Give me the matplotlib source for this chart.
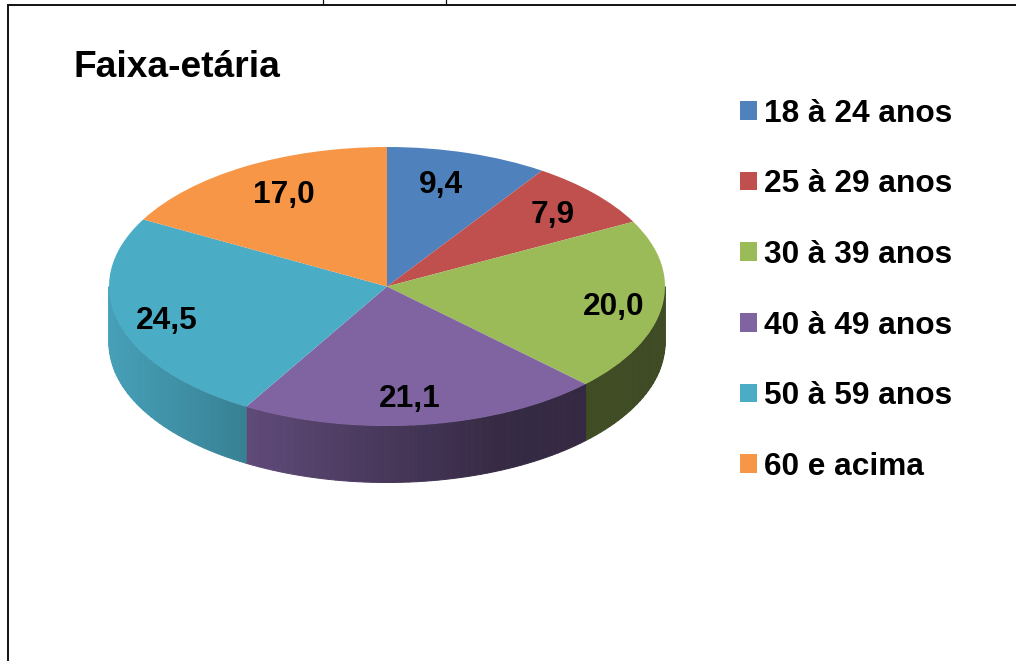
import numpy as np
import matplotlib
matplotlib.use("Agg")
import matplotlib.pyplot as plt
from matplotlib.lines import Line2D
from matplotlib.patches import Patch
from matplotlib.colors import to_rgb

plt.rcParams['font.family'] = ['Liberation Sans', 'DejaVu Sans']

categories = ["18 à 24 anos", "25 à 29 anos", "30 à 39 anos", "40 à 49 anos", "50 à 59 anos", "60 e acima"]
values = [9.4, 7.9, 20.0, 21.1, 24.5, 17.0]
value_labels = ["9,4", "7,9", "20,0", "21,1", "24,5", "17,0"]
colors = ["#4F81BD", "#C0504D", "#9BBB59", "#8064A2", "#4BACC6", "#F79646"]
title = "Faixa-etária"

W, H = 1016, 661
CX, CY, RX, RY, DEPTH = 387, 286.5, 278, 139.5, 56.5
label_px = [(441, 184.5), (553, 214.5), (614, 307.5), (410, 398.5), (167, 320.5), (284, 195.5)]

fig = plt.figure(figsize=(W / 100, H / 100), dpi=100, facecolor="white")
ax = fig.add_axes([(CX - RX) / W, 1 - (CY + RY) / H, 2 * RX / W, 2 * RY / H])

wedges, _ = ax.pie(values, colors=colors, startangle=90, counterclock=False, radius=1,
                   wedgeprops=dict(linewidth=0, zorder=3))
ax.set_aspect("auto")
ax.set_xlim(-1, 1)
ax.set_ylim(-1, 1)

# Side wall of the disc, shaded from left to right
depth = DEPTH / RY
def shade(x):
    return np.interp(x, [-1, -0.49, 0, 0.4, 1], [0.93, 0.74, 0.56, 0.42, 0.40])

fractions = np.array(values) / sum(values)
edges = 90 - 360 * np.concatenate([[0], np.cumsum(fractions)])
for k, col in enumerate(colors):
    hi, lo = min(edges[k], 0), max(edges[k + 1], -180)
    if hi <= lo:
        continue
    n = max(int((hi - lo) / 1.5), 2)
    t = np.radians(np.linspace(lo, hi, n + 1))
    base = np.array(to_rgb(col))
    for a, b in zip(t[:-1], t[1:]):
        arc = np.linspace(a, b, 6)
        xs, ys = np.cos(arc), np.sin(arc)
        c = base * shade(xs.mean())
        ax.fill(np.r_[xs, xs[::-1]], np.r_[ys, ys[::-1] - depth], facecolor=c, edgecolor=c,
                lw=0.7, zorder=2 + k * 0.01, clip_on=False)

# Data labels
for txt, (px, py) in zip(value_labels, label_px):
    ax.text((px - CX) / RX, (CY - py) / RY, txt, ha="center", va="center",
            fontsize=22.8, fontweight="bold", color="black", zorder=5, clip_on=False)

fig.text(74 / W, 1 - 77 / H, title, fontsize=26.7, fontweight="bold", color="black",
         ha="left", va="baseline")

# Legend
handles = [Patch(facecolor=c, edgecolor="none") for c in colors]
fig.legend(handles, categories, loc="upper left", bbox_to_anchor=(740 / W, 1 - 98.5 / H),
           frameon=False, borderpad=0, borderaxespad=0,
           prop=dict(weight="bold", size=22.8), handlelength=0.536, handleheight=0.536,
           handletextpad=0.22, labelspacing=1.285)

# Page frame cut from a surrounding document
frame = "#111111"
fig.add_artist(Line2D([8 / W, 8 / W, 1], [0, 1 - 4.5 / H, 1 - 4.5 / H], color=frame, lw=1.4,
                      solid_joinstyle="miter"))
for x in (323, 446):
    fig.add_artist(Line2D([x / W, x / W], [1 - 4 / H, 1], color=frame, lw=0.9))

fig.savefig("out.png", dpi=100, facecolor="white")
